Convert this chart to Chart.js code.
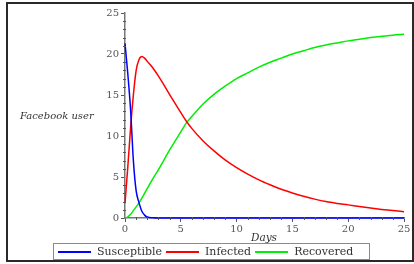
<!DOCTYPE html>
<html>
<head>
<meta charset="utf-8">
<script src="https://cdn.jsdelivr.net/npm/chart.js"></script>
<style>
  html, body { margin: 0; padding: 0; background: #fff; }
  #wrap { position: relative; width: 414px; height: 264px; overflow: hidden; }
  #frame { position: absolute; left: 6px; top: 2px; width: 404px; height: 256px; border: 2px solid #2a2a2a; }
  #myChart { position: absolute; left: 0; top: 0; }
  #legend { position: absolute; left: 53px; top: 243px; width: 315px; height: 15px;
            border: 1px solid #8a8a8a; display: flex; align-items: center;
            font: 11px "DejaVu Serif"; color: #333; }
  #legend .item { display: flex; align-items: center; }
  #legend .swatch { display: block; width: 33px; height: 2px; margin-left: 4px; margin-right: 6px; }
</style>
</head>
<body>
<div id="wrap">
  <div id="frame"></div>
  <canvas id="myChart" width="414" height="264"></canvas>
  <div id="legend"></div>
</div>
<script>
const dias = [0, 0.25, 0.5, 0.75, 1, 1.25, 1.5, 1.75, 2, 2.5, 3, 3.5, 4, 4.5, 5, 5.5, 6, 7, 8, 9, 10,
              11, 12, 13, 14, 15, 16, 17, 18, 19, 20, 21, 22, 23, 24, 25];
const susceptible = [21.3, 17.6, 13.2, 7.0, 3.3, 1.9, 0.85, 0.35, 0.12, 0.02, 0, 0, 0, 0, 0, 0, 0, 0, 0, 0, 0,
                     0, 0, 0, 0, 0, 0, 0, 0, 0, 0, 0, 0, 0, 0, 0];
const infected = [1.8, 6.2, 11.0, 15.0, 18.0, 19.3, 19.7, 19.5, 19.1, 18.3, 17.3, 16.2, 15.05, 13.95, 12.85, 11.8, 10.9, 9.4, 8.15, 7.05, 6.15,
                  5.35, 4.65, 4.05, 3.5, 3.05, 2.65, 2.3, 2.0, 1.78, 1.6, 1.4, 1.22, 1.05, 0.9, 0.77];
const recovered = [0, 0.15, 0.45, 0.9, 1.35, 1.85, 2.4, 3.0, 3.6, 4.8, 5.9, 7.1, 8.3, 9.4, 10.5, 11.6, 12.4, 13.9, 15.1, 16.1, 17.0,
                   17.7, 18.4, 19.0, 19.5, 20.0, 20.4, 20.8, 21.1, 21.35, 21.6, 21.8, 22.0, 22.15, 22.3, 22.4];
const nombres = ['Susceptible', 'Infected', 'Recovered'];
const colores = ['#0000ff', '#ff0000', '#00ee00'];
const yTitulo = 'Facebook user';
const xTitulo = 'Days';

function puntos(valores) {
  return dias.map((d, i) => ({ x: d, y: valores[i] }));
}

// minor ticks + horizontal axis titles
const extras = {
  id: 'extras',
  afterDraw(chart) {
    const ctx = chart.ctx;
    const x = chart.scales.x;
    const y = chart.scales.y;
    ctx.save();
    ctx.strokeStyle = '#555';
    ctx.lineWidth = 1;
    for (let v = 0; v <= 25; v++) {
      if (v % 5 === 0) continue;
      const px = Math.round(x.getPixelForValue(v)) + 0.5;
      ctx.beginPath(); ctx.moveTo(px, x.top - 1); ctx.lineTo(px, x.top + 2); ctx.stroke();
      const py = Math.round(y.getPixelForValue(v)) + 0.5;
      ctx.beginPath(); ctx.moveTo(y.right - 2, py); ctx.lineTo(y.right + 1, py); ctx.stroke();
    }
    ctx.fillStyle = '#333';
    ctx.font = 'italic 10px "DejaVu Serif"';
    ctx.textBaseline = 'middle';
    ctx.textAlign = 'left';
    ctx.fillText(yTitulo, 20, 116);
    ctx.textAlign = 'center';
    ctx.font = 'italic 10.5px "DejaVu Serif"';
    ctx.fillText(xTitulo, 264, 238);
    ctx.restore();
  }
};

const ctx = document.getElementById('myChart');
const grafico = new Chart(ctx, {
  type: 'line',
  data: {
    datasets: nombres.map((n, i) => ({
      label: n,
      data: puntos([susceptible, infected, recovered][i]),
      borderColor: colores[i],
      backgroundColor: colores[i],
      borderWidth: 1.5,
      pointRadius: 0,
      cubicInterpolationMode: 'monotone',
      clip: false
    }))
  },
  options: {
    responsive: false,
    animation: false,
    events: [],
    layout: { padding: { top: 13, right: 10, left: 0, bottom: 0 } },
    plugins: { legend: { display: false }, tooltip: { enabled: false } },
    scales: {
      x: {
        type: 'linear', min: 0, max: 25,
        afterFit(scale) { scale.height = 46; },
        ticks: { stepSize: 5, color: '#555', padding: 1, maxRotation: 0,
                 font: { family: 'DejaVu Serif', size: 10 } },
        grid: { drawOnChartArea: false, drawTicks: true, tickLength: 4, color: '#555' },
        border: { color: '#707090', width: 1.5 }
      },
      y: {
        min: 0, max: 25,
        afterFit(scale) { scale.width = 125; },
        ticks: { stepSize: 5, color: '#555', padding: 2,
                 font: { family: 'DejaVu Serif', size: 10 } },
        grid: { drawOnChartArea: false, drawTicks: true, tickLength: 4, color: '#555' },
        border: { color: '#777', width: 1.5 }
      }
    }
  },
  plugins: [extras]
});

// legend in html, from the datasets
const leyenda = document.getElementById('legend');
grafico.data.datasets.forEach((ds) => {
  const item = document.createElement('div');
  item.className = 'item';
  const sw = document.createElement('span');
  sw.className = 'swatch';
  sw.style.backgroundColor = ds.borderColor;
  const txt = document.createElement('span');
  txt.textContent = ds.label;
  item.appendChild(sw);
  item.appendChild(txt);
  leyenda.appendChild(item);
});
</script>
</body>
</html>
